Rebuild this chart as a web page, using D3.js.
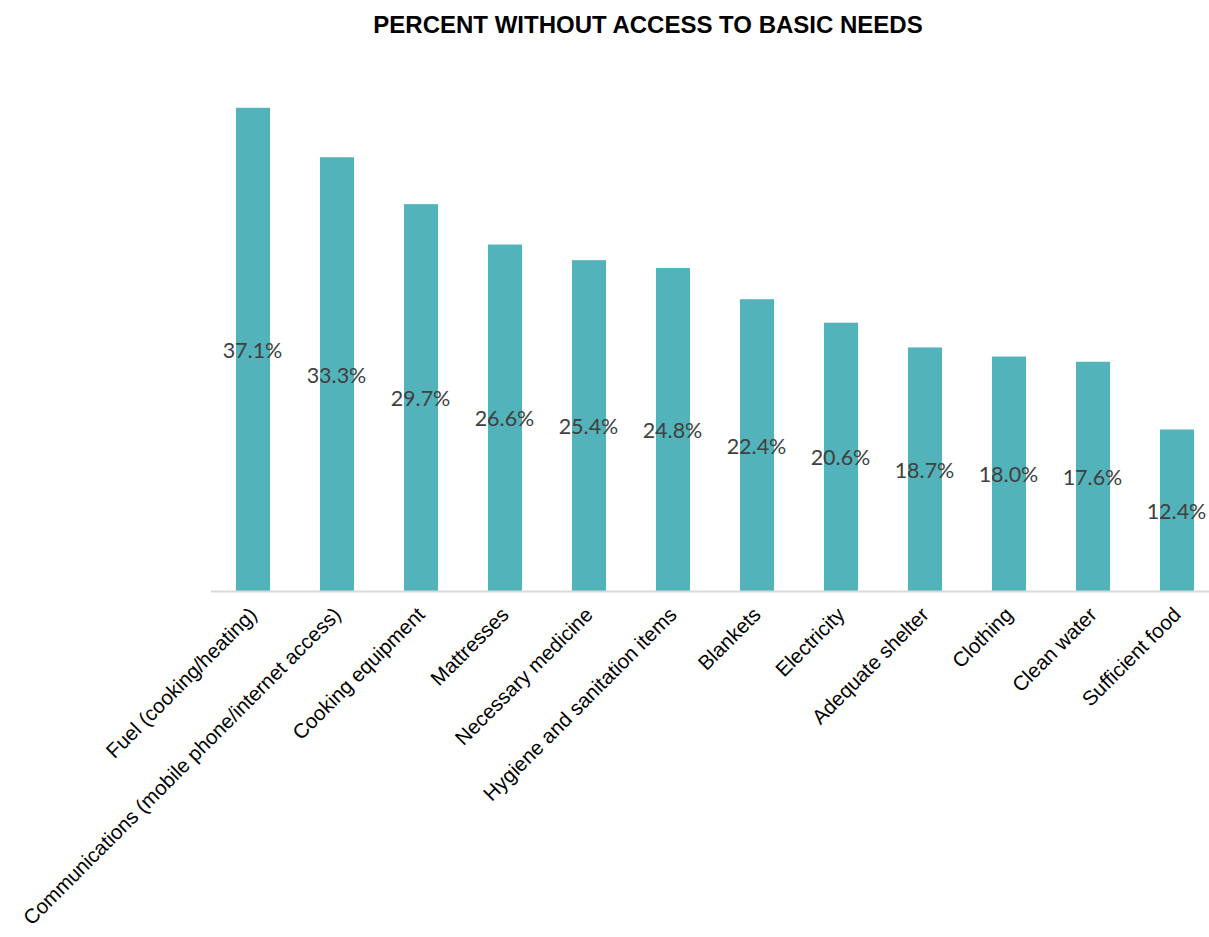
<!DOCTYPE html>
<html>
<head>
<meta charset="utf-8">
<script src="https://cdn.jsdelivr.net/npm/d3@7/dist/d3.min.js"></script>
<style>
  html, body { margin: 0; padding: 0; background: #fff; }
  svg { display: block; }
</style>
</head>
<body>
<svg id="chart" width="1209" height="937"></svg>
<script>
// Share of respondents lacking each basic need (%)
const categories = [
  "Fuel (cooking/heating)",
  "Communications (mobile phone/internet access)",
  "Cooking equipment",
  "Mattresses",
  "Necessary medicine",
  "Hygiene and sanitation items",
  "Blankets",
  "Electricity",
  "Adequate shelter",
  "Clothing",
  "Clean water",
  "Sufficient food"
];
const values = [37.1, 33.3, 29.7, 26.6, 25.4, 24.8, 22.4, 20.6, 18.7, 18.0, 17.6, 12.4];
const valueLabels = values.map(v => v.toFixed(1) + "%");
const title = "PERCENT WITHOUT ACCESS TO BASIC NEEDS";

const svg = d3.select("#chart");

const plot = { left: 211, right: 1219, top: 70, bottom: 591 };

const x = d3.scaleBand()
  .domain(categories)
  .range([plot.left, plot.right])
  .paddingInner(0.595)
  .paddingOuter(0.2975);

const y = d3.scaleLinear()
  .domain([0, 40])
  .range([plot.bottom, plot.top]);

// Title
svg.append("text")
  .attr("x", 648)
  .attr("y", 33)
  .attr("text-anchor", "middle")
  .style("font-family", "'Liberation Sans', Arial, sans-serif")
  .style("font-weight", "bold")
  .style("font-size", "24px")
  .attr("fill", "#000")
  .text(title);

// Bars
svg.append("g")
  .selectAll("rect")
  .data(values)
  .join("rect")
  .attr("x", (d, i) => x(categories[i]))
  .attr("y", d => y(d))
  .attr("width", x.bandwidth())
  .attr("height", d => y(0) - y(d))
  .attr("fill", "#53b3ba");

// Category axis
const xAxis = d3.axisBottom(x).tickSize(0).tickFormat("");
const axisG = svg.append("g")
  .attr("transform", `translate(0,${plot.bottom})`)
  .call(xAxis);
axisG.select(".domain")
  .attr("d", `M${plot.left},0.5H1209`)
  .attr("stroke", "#d9d9d9")
  .attr("stroke-width", 2);

// Rotated category labels
svg.append("g")
  .selectAll("text")
  .data(categories)
  .join("text")
  .attr("transform", d => `translate(${x(d) + x.bandwidth() / 2 + 5},616) rotate(-45)`)
  .attr("text-anchor", "end")
  .style("font-family", "'Liberation Sans', Arial, sans-serif")
  .style("font-size", "20.5px")
  .attr("fill", "#000")
  .text(d => d);

// Value labels at the middle of each bar
svg.append("g")
  .selectAll("text")
  .data(values)
  .join("text")
  .attr("x", (d, i) => x(categories[i]) + x.bandwidth() / 2 - 0.5)
  .attr("y", d => (y(d) + y(0)) / 2 + 8.5)
  .attr("text-anchor", "middle")
  .style("font-family", "Lato, 'Open Sans', sans-serif")
  .style("font-size", "21.5px")
  .attr("fill", "#404040")
  .text((d, i) => valueLabels[i]);
</script>
</body>
</html>
